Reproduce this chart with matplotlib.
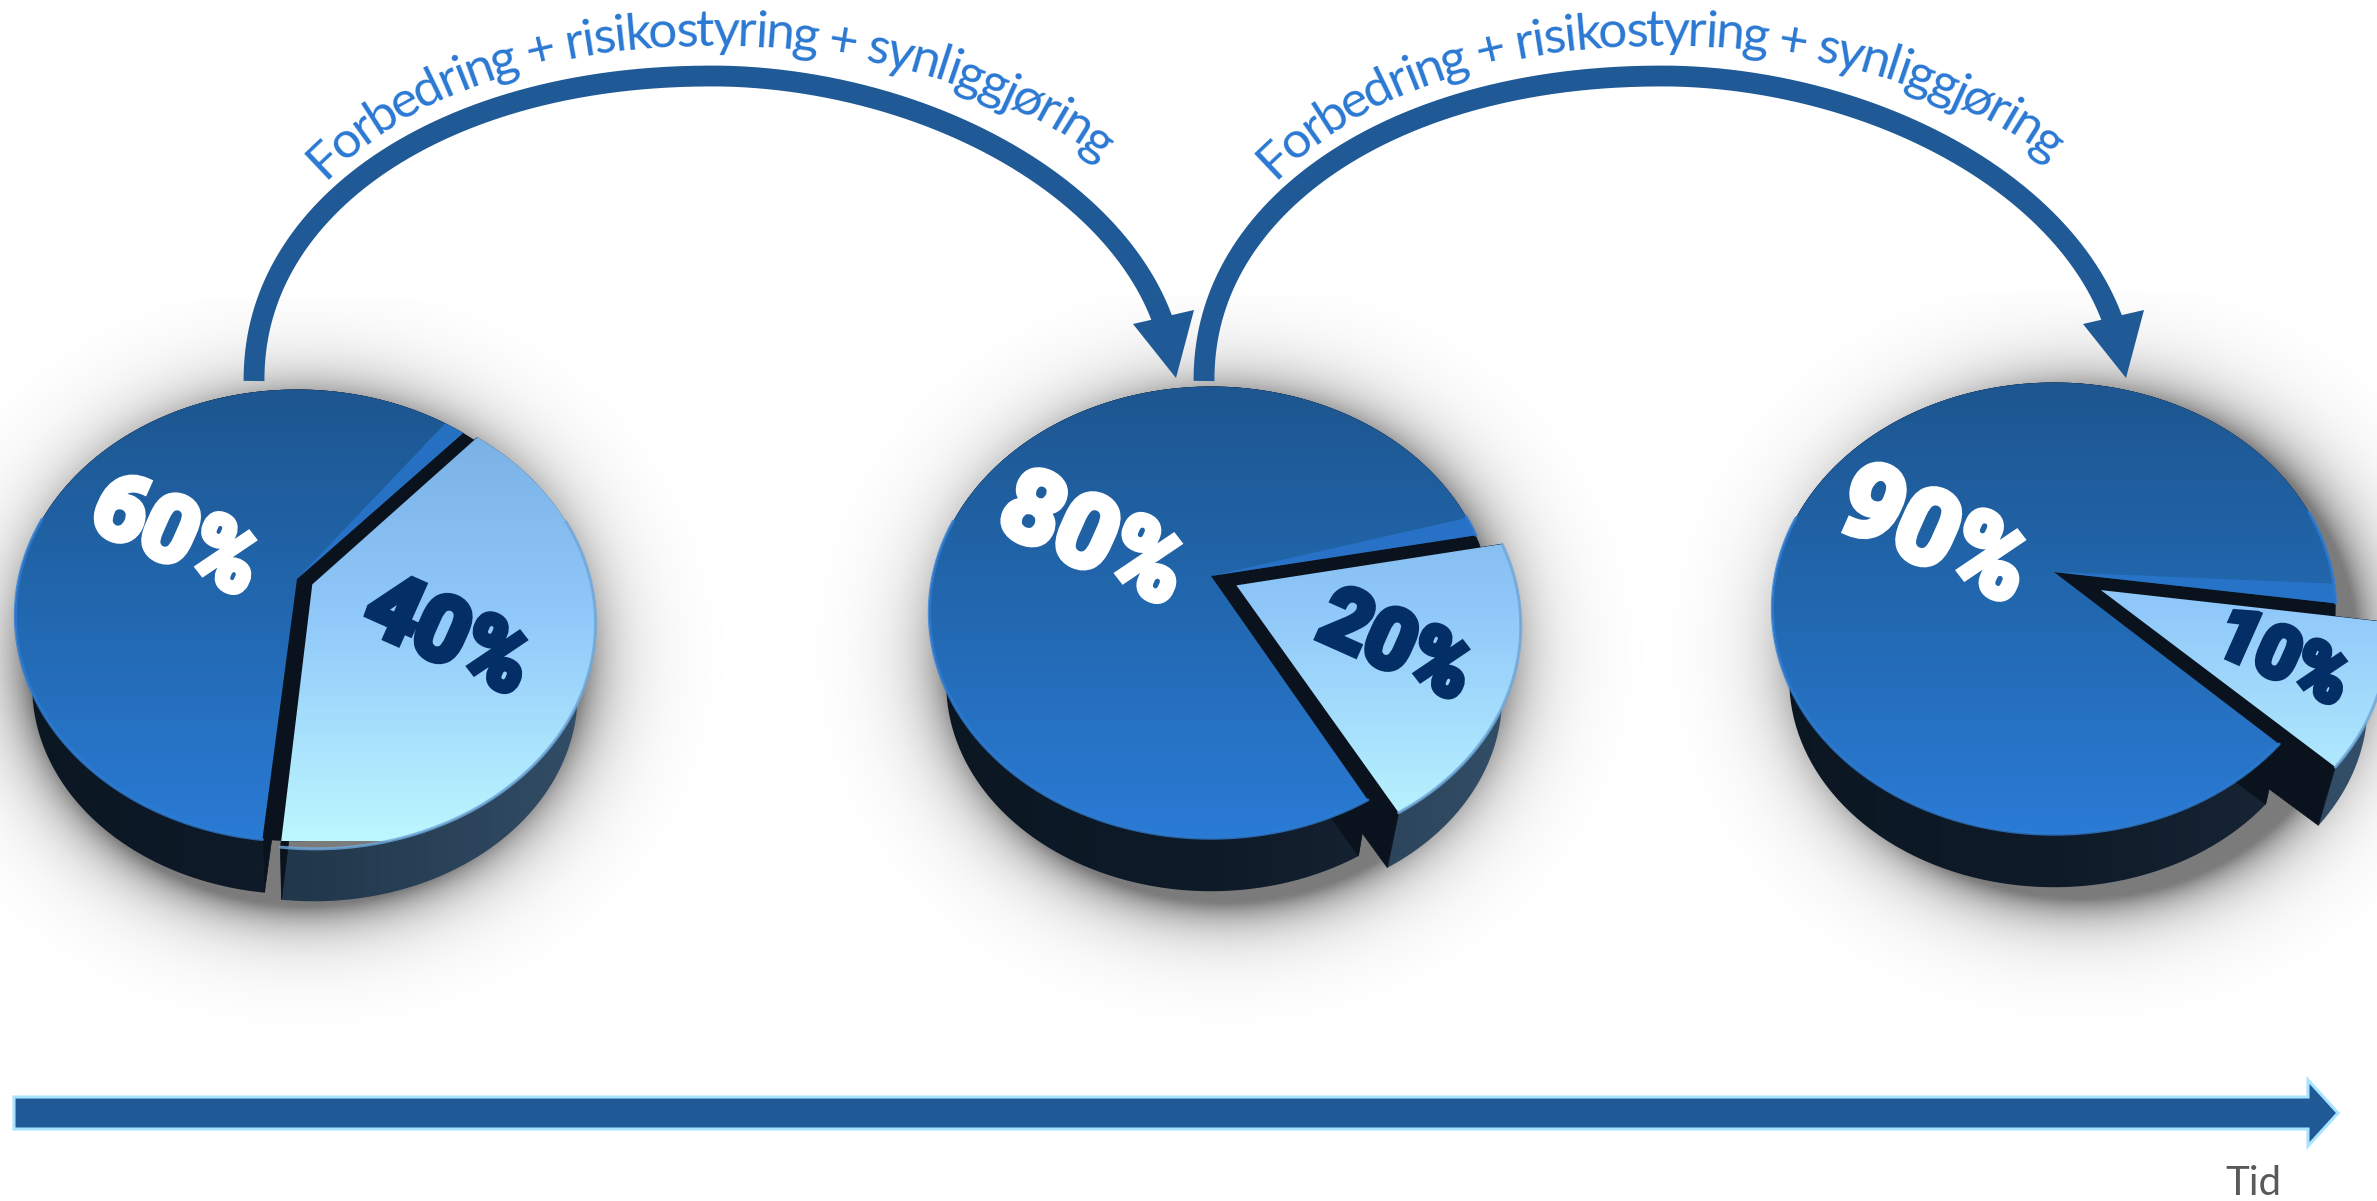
import numpy as np
import matplotlib
matplotlib.use('Agg')
import matplotlib.pyplot as plt
import matplotlib.patheffects as pe
from matplotlib.colors import LinearSegmentedColormap
from matplotlib.font_manager import FontProperties
from matplotlib.patches import Polygon
from matplotlib.textpath import TextToPath

# andel av kaken for hvert steg: (mork del, lys del)
dark_values = [60, 80, 90]
light_values = [40, 20, 10]
curve_label = 'Forbedring + risikostyring + synliggjøring'
axis_label = 'Tid'

# plassering av hver kake
apex_x = [297, 1211, 2054]
apex_y = [579, 576, 572]
start_angle = [48, 11, -8]
explode = [0.06, 0.10, 0.185]
dark_label_xy = [(175, 538), (1092, 542), (1933, 538)]
light_label_xy = [(447, 638), (1395, 648), (2282, 660)]
dark_label_size = [66, 73, 75]
light_label_size = [65, 60, 52]

RX, RY, P = 278, 220, -0.161
DEPTH = 74
BLUE = '#1f5a96'
GAP = '#0a131d'

dark_top = LinearSegmentedColormap.from_list('dark_top', ['#1d5690', '#2268b0', '#2a7bd6'])
light_top = LinearSegmentedColormap.from_list('light_top', ['#74ace0', '#90c8fa', '#bdf7ff'])
dark_wall = LinearSegmentedColormap.from_list('dark_wall', ['#0b1622', '#0f1b29', '#1c2a3a'])
light_wall = LinearSegmentedColormap.from_list('light_wall', ['#1b2b3b', '#22384c', '#35516b'])

# tegnerekkefolge for hver kake
Z_SHADOW, Z_GAP, Z_DARK_WALL, Z_LIGHT_WALL, Z_DARK_TOP, Z_LIGHT_TOP, Z_TEXT = 1, 1.5, 2, 3, 4, 5, 6


def project(u, w, cx, cy):
    s = 1 + P * w
    return cx + RX * u / s, cy + RY * w / s


def rim(a1, a2, cx, cy, off=(0, 0)):
    t = np.radians(np.linspace(a1, a2, 160))
    return project(np.cos(t) + off[0], -np.sin(t) + off[1], cx, cy)


def lower(x, y, cx, cy):
    return cx + (np.asarray(x) - cx) * 0.94, cy + (np.asarray(y) - cy) * 0.92 + DEPTH


def fill_gradient(ax, verts, cmap, box, z, horizontal=False):
    poly = Polygon(verts, closed=True, fc='none', ec='none', zorder=z)
    ax.add_patch(poly)
    g = np.linspace(0, 1, 256)
    g = g[None, :] if horizontal else g[:, None]
    im = ax.imshow(g, cmap=cmap, extent=(box[0], box[1], box[3], box[2]), aspect='auto', zorder=z)
    im.set_clip_path(poly)
    return im


def draw_shadow(ax, cx, cy):
    xs = np.arange(cx - 470, cx + 500, 4.0)
    ys = np.arange(cy - 280, cy + 500, 4.0)
    gx, gy = np.meshgrid(xs, ys)
    r = np.sqrt(((gx - cx) / RX) ** 2 + ((gy - cy - 75) / (RY * 1.15)) ** 2)
    d = np.clip(r - 1, 0, None) * RX
    alpha = (0.42 * np.exp(-d / 30) + 0.10 * np.exp(-d / 90)) * np.clip(1 - d / 170, 0, 1)
    rgba = np.zeros(gx.shape + (4,))
    rgba[..., 3] = alpha
    ax.imshow(rgba, extent=(xs[0], xs[-1], ys[-1], ys[0]), aspect='auto', zorder=Z_SHADOW, interpolation='bilinear')


def draw_walls(ax, a1, a2, cx, cy, off, cmap, z):
    x, y = rim(a1, a2, cx, cy, off)
    bx, by = lower(x, y, cx, cy)
    verts = np.r_[np.c_[x, y], np.c_[bx, by][::-1]]
    box = (cx - RX - 30, cx + RX + 60, cy - 250, cy + 350)
    fill_gradient(ax, verts, cmap, box, z, horizontal=True)
    # radiale sideflater
    ax0, ay0 = project(off[0], off[1], cx, cy)
    bx0, by0 = lower(ax0, ay0, cx, cy)
    for i in (0, -1):
        face = [(ax0, ay0), (x[i], y[i]), (bx[i], by[i]), (bx0, by0)]
        ax.add_patch(Polygon(face, closed=True, fc=GAP, ec=GAP, lw=0.5, zorder=z))


def draw_top(ax, a1, a2, cx, cy, off, cmap, edge, z):
    x, y = rim(a1, a2, cx, cy, off)
    ax0, ay0 = project(off[0], off[1], cx, cy)
    verts = np.r_[[[ax0, ay0]], np.c_[x, y]]
    box = (cx - RX - 30, cx + RX + 60, cy - RY / (1 - P), cy + RY / (1 + P))
    fill_gradient(ax, verts, cmap, box, z)
    # lys kant bare paa framsiden
    front = np.where(y > cy - 60, y, np.nan)
    ax.plot(x, front, color=edge, lw=2.2, alpha=0.8, zorder=z, solid_capstyle='round')


def curve_points(cx, cy, a_left, a_right, b, n_left, n_right, t1, t2):
    # superellipse med ulik form paa venstre og hoyre side
    t = np.radians(np.linspace(t1, t2, 1500))
    c, s = np.cos(t), np.sin(t)
    left = c < 0
    x = np.where(left, -a_left * np.abs(c) ** (2 / n_left), a_right * np.abs(c) ** (2 / n_right))
    y = np.where(left, b * np.abs(s) ** (2 / n_left), b * np.abs(s) ** (2 / n_right))
    return cx + x, cy - y


def draw_curve_text(ax, label, x, y, size):
    prop = FontProperties(family='Lato', size=size)
    ttp = TextToPath()
    width = lambda s: ttp.get_text_width_height_descent(s, prop, False)[0]
    arc = np.r_[0, np.cumsum(np.hypot(np.diff(x), np.diff(y)))]
    pt_to_px = 100 / 72
    total = width(label) * pt_to_px
    stretch = arc[-1] / total
    for i, ch in enumerate(label):
        if ch == ' ':
            continue
        s = (width(label[:i]) + width(ch) / 2) * pt_to_px * stretch
        px, py = np.interp(s, arc, x), np.interp(s, arc, y)
        dx = np.interp(s + 2, arc, x) - np.interp(s - 2, arc, x)
        dy = np.interp(s + 2, arc, y) - np.interp(s - 2, arc, y)
        ax.text(px, py, ch, fontproperties=prop, color='#2a78d2', ha='center', va='baseline',
                rotation=np.degrees(np.arctan2(-dy, dx)), rotation_mode='anchor', zorder=8)


def draw_curve_arrow(ax, shift):
    x, y = curve_points(714 + shift, 381, 460, 460, 305, 2.1, 1.9, 180, 11.7)
    ax.plot(x, y, color=BLUE, lw=15, solid_capstyle='butt', zorder=7)
    head = [(1133 + shift, 324), (1194 + shift, 310), (1176 + shift, 378)]
    ax.add_patch(Polygon(head, closed=True, fc=BLUE, ec='none', zorder=7))


fig = plt.figure(figsize=(23.77, 12.01), dpi=100)
ax = fig.add_axes([0, 0, 1, 1])

for i in range(3):
    cx, cy = apex_x[i], apex_y[i]
    a1 = start_angle[i]
    a2 = a1 + dark_values[i] * 3.6
    a0 = a1 - light_values[i] * 3.6
    mid = np.radians(a1 - light_values[i] * 1.8)
    off = (explode[i] * np.cos(mid), -explode[i] * np.sin(mid))

    draw_shadow(ax, cx + explode[i] * RX * 0.5, cy)
    # mork bunn under spalten mellom delene
    ax.add_patch(Polygon(np.c_[rim(0, 360, cx, cy)], closed=True, fc=GAP, ec='none', zorder=Z_GAP))
    draw_walls(ax, a1, a2, cx, cy, (0, 0), dark_wall, Z_DARK_WALL)
    draw_walls(ax, a0, a1, cx, cy, off, light_wall, Z_LIGHT_WALL)
    draw_top(ax, a1, a2, cx, cy, (0, 0), dark_top, '#2f7ed6', Z_DARK_TOP)

    # lys stripe langs kanten av den morke delen
    hx, hy = rim(a1, a1 + 5, cx, cy)
    ax.add_patch(Polygon(np.r_[[[cx, cy]], np.c_[hx, hy]], closed=True, fc='#2a78d2', ec='none',
                         alpha=0.75, zorder=Z_DARK_TOP))

    draw_top(ax, a0, a1, cx, cy, off, light_top, '#6fa8dc', Z_LIGHT_TOP)

    ax.text(*dark_label_xy[i], f'{dark_values[i]}%', color='white', fontsize=dark_label_size[i],
            family=['Liberation Sans Narrow', 'Roboto'], weight='bold', rotation=-24, ha='center', va='center',
            rotation_mode='anchor', zorder=Z_TEXT,
            path_effects=[pe.withStroke(linewidth=5, foreground='white', joinstyle='miter')])
    ax.text(*light_label_xy[i], f'{light_values[i]}%', color='#032e66', fontsize=light_label_size[i],
            family=['Liberation Sans Narrow', 'Roboto'], weight='bold', rotation=-24, ha='center', va='center',
            rotation_mode='anchor', zorder=Z_TEXT,
            path_effects=[pe.withStroke(linewidth=5, foreground='#032e66', joinstyle='miter')])

for shift in (0, 950):
    draw_curve_arrow(ax, shift)
    bx, by = curve_points(714 + shift, 381, 470, 510, 335, 2.15, 2.0, 144.5, 41)
    draw_curve_text(ax, curve_label, bx, by, 37)

# tidsakse nederst
time_arrow = [(14, 1097), (2308, 1097), (2308, 1080), (2338, 1113), (2308, 1146), (2308, 1129), (14, 1129)]
ax.add_patch(Polygon(time_arrow, closed=True, fc=BLUE, ec='#a8e4ff', lw=2.2, zorder=7))
ax.text(2253, 1195, axis_label, family='Lato', fontsize=29, color='#595959', ha='center', va='baseline')

ax.set_xlim(0, 2377)
ax.set_ylim(1201, 0)
ax.axis('off')
fig.savefig('out.png', dpi=100)
